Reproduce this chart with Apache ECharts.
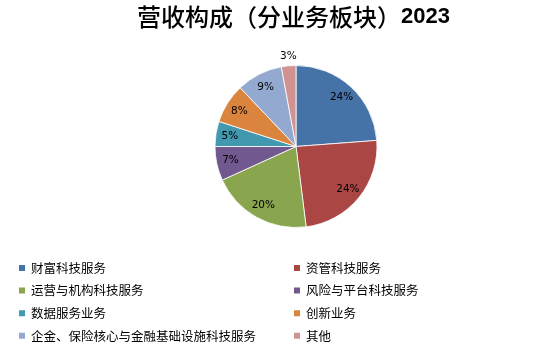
<!DOCTYPE html>
<html>
<head>
<meta charset="utf-8">
<title>营收构成</title>
<script src="https://cdn.jsdelivr.net/npm/echarts@6/dist/echarts.min.js"></script>
<style>
html,body{margin:0;padding:0;background:#fff;}
#container{width:537px;height:354px;}
</style>
</head>
<body>
<div id="container"></div>
<script>
// 业务板块与占比(%)
var names = ['财富科技服务', '资管科技服务', '运营与机构科技服务', '风险与平台科技服务',
             '数据服务业务', '创新业务', '企金、保险核心与金融基础设施科技服务', '其他'];
var values = [23.8, 24.2, 20.2, 6.8, 5.0, 7.9, 9.2, 2.9];
var labels = ['24%', '24%', '20%', '7%', '5%', '8%', '9%', '3%'];
var colors = ['#4572A7', '#AA4643', '#89A54E', '#71588F', '#4198AF', '#DB843D', '#93A9CF', '#D19392'];

var cjk = '"Noto Sans CJK SC", sans-serif';

var pieData = [], labelData = [];
for (var i = 0; i < names.length; i++) {
  pieData.push({ name: names[i], value: values[i], itemStyle: { color: colors[i] } });
  var d = { name: names[i], value: values[i], label: { formatter: labels[i] } };
  if (i == names.length - 1) {
    // 3% 放在外面
    d.label.position = 'outside';
    d.label.offset = [14, 0];
  }
  labelData.push(d);
}

var legendText = { fontFamily: cjk, fontSize: 12.5, color: '#000', lineHeight: 14 };

var myChart = echarts.init(document.getElementById('container'));
var option = {
  animation: false,
  color: colors,
  title: {
    text: '{a|营收构成（分业务板块）}{b|2023}',
    left: 137,
    top: 5,
    padding: 0,
    textStyle: {
      rich: {
        a: { fontFamily: cjk, fontSize: 24, fontWeight: 500, color: '#000' },
        b: { fontFamily: '"Liberation Sans", sans-serif', fontSize: 22, fontWeight: 'bold', color: '#000' }
      }
    }
  },
  legend: [
    {
      orient: 'vertical', left: 17, top: 261, padding: 0,
      itemWidth: 8, itemHeight: 8, itemGap: 8.6, icon: 'rect',
      textStyle: legendText,
      data: [names[0], names[2], names[4], names[6]]
    },
    {
      orient: 'vertical', left: 292, top: 261, padding: 0,
      itemWidth: 8, itemHeight: 8, itemGap: 8.6, icon: 'rect',
      textStyle: legendText,
      data: [names[1], names[3], names[5], names[7]]
    }
  ],
  series: [
    {
      name: '营收构成',
      type: 'pie',
      radius: 81,
      center: [296, 146.5],
      startAngle: 90,
      clockwise: true,
      itemStyle: { borderColor: '#fff', borderWidth: 0.8 },
      label: { show: false },
      labelLine: { show: false },
      data: pieData
    },
    {
      // 只用来放百分比标签
      name: 'labels',
      type: 'pie',
      radius: [47, 81],
      center: [296, 146.5],
      startAngle: 90,
      clockwise: true,
      silent: true,
      legendHoverLink: false,
      itemStyle: { color: 'rgba(0,0,0,0)' },
      label: {
        show: true,
        position: 'inside',
        fontFamily: '"DejaVu Sans", sans-serif',
        fontSize: 10.5,
        color: '#000'
      },
      labelLine: { show: false, length: 10, length2: 0 },
      data: labelData
    }
  ]
};
myChart.setOption(option);
</script>
</body>
</html>
